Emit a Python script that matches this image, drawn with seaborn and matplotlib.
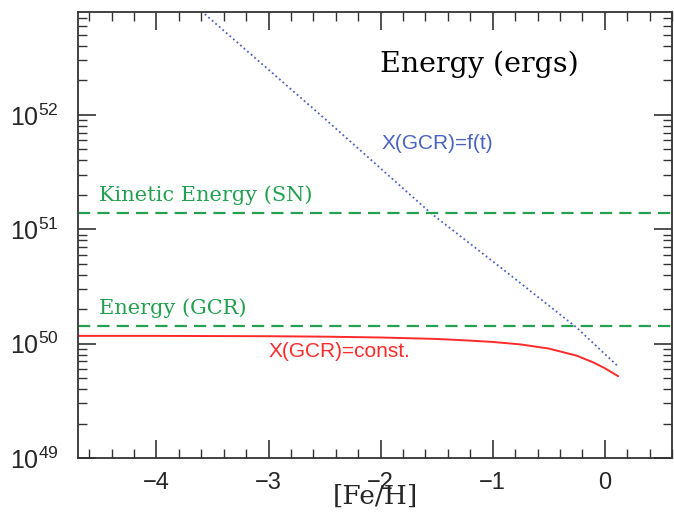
import numpy as np
import pandas as pd
import seaborn as sns
import matplotlib.pyplot as plt
from matplotlib.ticker import MultipleLocator, LogLocator, NullFormatter

# [Fe/H] grid and energies (ergs)
feh_ft = [-3.6, -2.5, -1.55, -0.9, -0.25, 0.12]
energy_ft = [8.1e52, 9.3e51, 1.38e51, 4.4e50, 1.38e50, 6.3e49]

feh_const = [-4.7, -4.0, -3.0, -2.5, -2.0, -1.5, -1.25, -1.0, -0.75, -0.5, -0.25, -0.1, 0.0, 0.12]
energy_const = [1.169e50, 1.169e50, 1.161e50, 1.151e50, 1.132e50, 1.099e50, 1.069e50, 1.035e50,
                9.84e49, 9.06e49, 7.85e49, 6.84e49, 6.10e49, 5.19e49]

kinetic_sn = 1.4e51
energy_gcr = 1.43e50

sns.set_style("ticks")
plt.rcParams["font.family"] = ["Liberation Sans", "DejaVu Sans"]

BLUE = "#4a63c0"
RED = "#ff2a2a"
GREEN = "#23a050"
AXC = "#333333"

fig = plt.figure(figsize=(6.74, 5.15), dpi=100)
ax = fig.add_axes([78 / 674, 57 / 515, 594 / 674, 446 / 515])

df_ft = pd.DataFrame({"feh": feh_ft, "E": energy_ft})
df_c = pd.DataFrame({"feh": feh_const, "E": energy_const})

sns.lineplot(data=df_ft, x="feh", y="E", ax=ax, color=BLUE, lw=1.3, linestyle=(0, (1, 1.6)))
sns.lineplot(data=df_c, x="feh", y="E", ax=ax, color=RED, lw=1.4)
ax.axhline(kinetic_sn, color=GREEN, lw=1.6, dashes=(5.5, 3.2))
ax.axhline(energy_gcr, color=GREEN, lw=1.6, dashes=(5.5, 3.2))

ax.set_yscale("log")
ax.set_xlim(-4.7, 0.6)
ax.set_ylim(1e49, 10 ** 52.9)

ax.xaxis.set_major_locator(MultipleLocator(1))
ax.xaxis.set_minor_locator(MultipleLocator(0.2))
ax.yaxis.set_major_locator(LogLocator(base=10, numticks=10))
ax.yaxis.set_minor_locator(LogLocator(base=10, subs=np.arange(2, 10), numticks=20))
ax.yaxis.set_minor_formatter(NullFormatter())

ax.tick_params(which="both", direction="in", top=True, right=True, color=AXC)
ax.tick_params(which="major", length=13, width=1.2)
ax.tick_params(which="minor", length=6.5, width=1.0)
ax.tick_params(axis="x", which="major", labelsize=17, pad=10)
ax.tick_params(axis="y", which="major", labelsize=18, pad=14)
for s in ax.spines.values():
    s.set_color(AXC)
    s.set_linewidth(1.3)

ax.set_xlabel("[Fe/H]", family="DejaVu Serif", fontsize=19, labelpad=-7)
ax.set_ylabel("")

ax.text(0.508, 0.882, "Energy (ergs)", transform=ax.transAxes, family="DejaVu Serif",
        fontsize=20.5, color="black", ha="left", va="center")
ax.text(-4.51, kinetic_sn * 1.17, "Kinetic Energy (SN)", family="DejaVu Serif",
        fontsize=15, color=GREEN, ha="left", va="bottom")
ax.text(-4.51, energy_gcr * 1.17, "Energy (GCR)", family="DejaVu Serif",
        fontsize=15, color=GREEN, ha="left", va="bottom")
ax.text(-1.99, 5.6e51, "X(GCR)=f(t)", fontsize=15, color=BLUE, ha="left", va="center")
ax.text(-3.0, 8.5e49, "X(GCR)=const.", fontsize=15, color=RED, ha="left", va="center")

fig.savefig("out.png", dpi=100)
